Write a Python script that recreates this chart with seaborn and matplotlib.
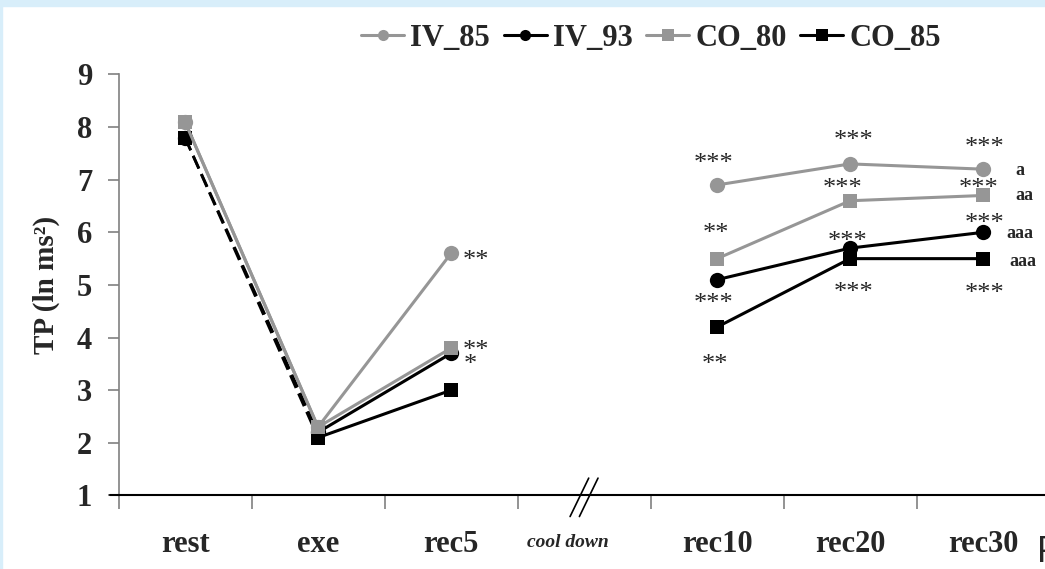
import numpy as np
import pandas as pd
import matplotlib
matplotlib.use("Agg")
import matplotlib.pyplot as plt
import seaborn as sns
from matplotlib.lines import Line2D
from matplotlib.patches import Rectangle

# ---- data -------------------------------------------------------------
categories = ["rest", "exe", "rec5", "cool down", "rec10", "rec20", "rec30"]
series = ["IV_85", "IV_93", "CO_80", "CO_85"]
iv_85 = [8.1, 2.3, 5.6, np.nan, 6.9, 7.3, 7.2]
iv_93 = [7.8, 2.2, 3.7, np.nan, 5.1, 5.7, 6.0]
co_80 = [8.1, 2.3, 3.8, np.nan, 5.5, 6.6, 6.7]
co_85 = [7.8, 2.1, 3.0, np.nan, 4.2, 5.5, 5.5]

# significance versus exercise (asterisks) and between-group letters
stars = [
    ("IV_85", "rec5", "**"), ("CO_80", "rec5", "**"), ("IV_93", "rec5", "*"),
    ("IV_85", "rec10", "***"), ("CO_80", "rec10", "**"),
    ("IV_93", "rec10", "***"), ("CO_85", "rec10", "**"),
    ("IV_85", "rec20", "***"), ("CO_80", "rec20", "***"),
    ("IV_93", "rec20", "***"), ("CO_85", "rec20", "***"),
    ("IV_85", "rec30", "***"), ("CO_80", "rec30", "***"),
    ("IV_93", "rec30", "***"), ("CO_85", "rec30", "***"),
]
letters = [("IV_85", "a"), ("CO_80", "aa"), ("IV_93", "aaa"), ("CO_85", "aaa")]

# ---- styling ----------------------------------------------------------
sns.set_style("ticks")
plt.rcParams["font.family"] = ["Liberation Serif", "DejaVu Serif"]
plt.rcParams["font.weight"] = "bold"

GREY = "#969696"
styles = {
    "IV_85": dict(color=GREY, marker="o", ms=11),
    "IV_93": dict(color="black", marker="o", ms=11),
    "CO_80": dict(color=GREY, marker="s", ms=10),
    "CO_85": dict(color="black", marker="s", ms=10),
}
values = {"IV_85": iv_85, "IV_93": iv_93, "CO_80": co_80, "CO_85": co_85}
df = pd.DataFrame(values)
df["cat"] = categories
df["x"] = np.arange(len(categories))
long = df.melt(id_vars=["cat", "x"], var_name="series", value_name="tp")

fig = plt.figure(figsize=(10.45, 5.69), dpi=100)
fig.patches.append(Rectangle((0, 1 - 6 / 569), 1, 6 / 569, transform=fig.transFigure,
                             color="#d8eefa", zorder=0))
fig.patches.append(Rectangle((0, 0), 2 / 1045, 1, transform=fig.transFigure,
                             color="#d8eefa", zorder=0))
ax = fig.add_axes([0.1134, 0.1292, 0.891, 0.740])

# the two black groups fall from rest to exercise along a dashed line
dashed_first = {"IV_93", "CO_85"}
phases = [["rest", "exe", "rec5"], ["rec10", "rec20", "rec30"]]
draw_order = ["IV_85", "IV_93", "CO_85", "CO_80"]
for s in draw_order:
    st = styles[s]
    sub = long[long["series"] == s]
    for ph in phases:
        seg = sub[sub["cat"].isin(ph)]
        if s in dashed_first and ph[0] == "rest":
            head = seg[seg["cat"].isin(["rest", "exe"])]
            sns.lineplot(data=head, x="x", y="tp", ax=ax, color=st["color"], lw=2.0,
                         linestyle=(0, (5, 2.2)), legend=False, zorder=1.5)
            seg = seg[seg["cat"].isin(["exe", "rec5"])]
            sns.lineplot(data=sub[sub["cat"] == "rest"], x="x", y="tp", ax=ax,
                         color=st["color"], marker=st["marker"], ms=st["ms"],
                         mec=st["color"], mew=0, lw=0, legend=False)
        sns.lineplot(data=seg, x="x", y="tp", ax=ax, color=st["color"], lw=2.2,
                     marker=st["marker"], ms=st["ms"], mec=st["color"], mew=0,
                     legend=False)

# ---- axes -------------------------------------------------------------
ax.set_xlim(-0.5, 6.5)
ax.set_ylim(1, 9)
ax.set_xlabel("")
ax.set_ylabel("TP (ln ms²)", fontsize=21, fontweight="bold")
ax.yaxis.set_label_coords(-0.063, 0.5)
ax.set_yticks(range(1, 10))
ax.set_xticks(np.arange(-0.5, 7, 1))
ax.set_xticklabels([])
ax.set_xticks(range(len(categories)), minor=True)
ax.set_xticklabels([c if c != "cool down" else "" for c in categories], minor=True)
ax.tick_params(axis="x", which="major", length=10, width=1.2, color="#808080", direction="out")
ax.tick_params(axis="x", which="minor", length=0, pad=25, labelsize=22)
ax.tick_params(axis="y", length=8, width=1.2, color="#808080", pad=11, labelsize=22)
for lab in ax.get_xticklabels(minor=True) + ax.get_yticklabels():
    lab.set_fontweight("bold")
sns.despine(ax=ax)
ax.spines["left"].set_color("#808080")
ax.spines["left"].set_linewidth(1.2)
ax.spines["bottom"].set_color("black")
ax.spines["bottom"].set_linewidth(1.5)
ax.plot([-0.5 - 9 / 133, -0.5], [1, 1], color="black", lw=1.5, clip_on=False)

ax.annotate("cool down", xy=(3, 1), xytext=(-16, -51.5), textcoords="offset pixels",
            ha="center", va="baseline", fontsize=14, style="italic", fontweight="bold")

# axis break marks where the cool-down interval is skipped
for off in (-0.035, 0.035):
    ax.plot([3 + off - 0.07, 3 + off + 0.07], [1 - 0.4, 1 + 0.33], color="black",
            lw=1.2, clip_on=False)

# ---- annotations ------------------------------------------------------
STAR_FS = 19
star_place = [
    (12, 0, "left"), (12, 4, "left"), (13, -4, "left"),
    (-3, 28, "center"), (-1, 32, "center"), (-3, -17, "center"), (-2, -31, "center"),
    (4, 30, "center"), (-7, 19, "center"), (-2, 13, "center"), (4, -27, "center"),
    (2, 28, "center"), (-4, 14, "center"), (2, 16, "center"), (2, -28, "center"),
]
star_shift = 0.5 * STAR_FS * 100 / 72
for (s, c, txt), (dx, dy, ha) in zip(stars, star_place):
    xi = categories.index(c)
    ax.annotate(txt, xy=(xi, values[s][xi]), xytext=(dx, dy - star_shift),
                textcoords="offset pixels", ha=ha, va="baseline",
                fontsize=STAR_FS, fontweight="normal", annotation_clip=False)

LET_FS = 13
letter_place = [(37, -2), (41, 0), (37, -2), (40, -3)]
let_shift = 0.23 * LET_FS * 100 / 72
last = len(categories) - 1
for (s, txt), (dx, dy) in zip(letters, letter_place):
    ax.annotate(txt, xy=(last, values[s][last]), xytext=(dx, dy - let_shift),
                textcoords="offset pixels", ha="center", va="baseline",
                fontsize=LET_FS, fontweight="bold", annotation_clip=False)

# ---- legend -----------------------------------------------------------
handles = [Line2D([], [], color=styles[s]["color"], marker=styles[s]["marker"],
                  ms=8, mew=0, lw=2.2) for s in series]
fig.legend(handles, series, loc="center", bbox_to_anchor=(0.623, 0.932), ncol=4,
           frameon=False, handlelength=1.4, handletextpad=0.2, columnspacing=0.45,
           prop=dict(family="Liberation Serif", weight="bold", size=22))

fig.text(1037 / 1045, 1 - 562 / 569, "P", fontfamily="Liberation Sans",
         fontweight="normal", fontsize=26, va="baseline", ha="left")

fig.savefig("out.png", dpi=100)
